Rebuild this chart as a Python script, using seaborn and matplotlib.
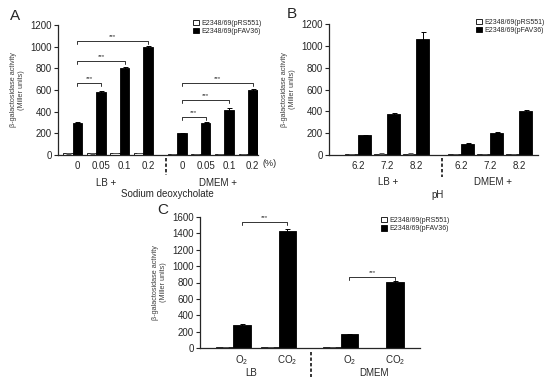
import matplotlib
matplotlib.use("Agg")
import matplotlib.pyplot as plt
import numpy as np
import pandas as pd
import seaborn as sns

# ---- data ----
strains = ["E2348/69(pRS551)", "E2348/69(pFAV36)"]

# panel A: sodium deoxycholate (%)
a_media = ["LB +", "DMEM +"]
a_conc = ["0", "0.05", "0.1", "0.2"]
a_rs551 = [15, 15, 18, 18, 5, 8, 8, 8]
a_rs551_err = [3, 3, 3, 3, 1, 2, 2, 2]
a_fav36 = [300, 580, 800, 1000, 200, 300, 420, 600]
a_fav36_err = [8, 15, 12, 8, 5, 6, 15, 6]
# (from index, to index, height) for significance brackets
a_sig = [(0, 1, 665), (0, 2, 868), (0, 3, 1052), (4, 5, 351), (4, 6, 508), (4, 7, 665)]

# panel B: pH
b_media = ["LB +", "DMEM +"]
b_ph = ["6.2", "7.2", "8.2"]
b_rs551 = [8, 12, 12, 5, 5, 5]
b_rs551_err = [1, 2, 2, 1, 1, 1]
b_fav36 = [180, 375, 1065, 105, 205, 400]
b_fav36_err = [5, 10, 65, 6, 5, 8]

# panel C: O2 / CO2
c_media = ["LB", "DMEM"]
c_gas = ["O$_2$", "CO$_2$"]
c_rs551 = [8, 12, 10, 5]
c_rs551_err = [1, 2, 2, 1]
c_fav36 = [285, 1430, 165, 805]
c_fav36_err = [12, 20, 8, 8]
c_sig = [(0, 1, 1539), (2, 3, 867)]

sns.set_style("ticks")
plt.rcParams["font.family"] = ["Liberation Sans", "DejaVu Sans"]
plt.rcParams["mathtext.default"] = "regular"
plt.rcParams["axes.linewidth"] = 0.9

palette = {strains[0]: "white", strains[1]: "black"}


def build_frame(media, levels, rs, fav, gap):
    rows = []
    n = len(levels)
    for mi, _ in enumerate(media):
        for li, _ in enumerate(levels):
            k = mi * n + li
            pos = li + mi * (n + gap - 1)
            rows.append({"pos": pos, "strain": strains[0], "value": rs[k]})
            rows.append({"pos": pos, "strain": strains[1], "value": fav[k]})
    return pd.DataFrame(rows)


def draw_panel(ax, df, width, errs, ylim, ystep, legend_xy):
    sns.barplot(data=df, x="pos", y="value", hue="strain", hue_order=strains,
                palette=palette, native_scale=True, width=width, errorbar=None,
                edgecolor="black", linewidth=0.6, legend=False, ax=ax)
    for cont, err, col in zip(ax.containers, errs, ["0.35", "black"]):
        xs = [p.get_x() + p.get_width() / 2 for p in cont]
        hs = [p.get_height() for p in cont]
        ax.errorbar(xs, hs, yerr=err, fmt="none", ecolor=col, elinewidth=0.7,
                    capsize=1.8, capthick=0.7)
    ax.set_ylim(*ylim)
    ax.set_yticks(np.arange(ylim[0], ylim[1] + 1, ystep))
    ax.tick_params(axis="y", labelsize=7, length=3, width=0.8, pad=1.5)
    ax.tick_params(axis="x", labelsize=7, length=0, pad=4)
    ax.set_xlabel("")
    ax.set_ylabel("β-galactosidase activity\n(Miller units)", fontsize=5.2,
                  linespacing=1.1, labelpad=4, color="0.25")
    sns.despine(ax=ax)
    ax.legend(handles=ax.containers, labels=strains, loc="upper left",
              bbox_to_anchor=legend_xy, frameon=False, fontsize=5.0,
              handlelength=0.9, handleheight=0.8, handletextpad=0.3,
              labelspacing=0.15, borderaxespad=0)


def black_x(ax):
    return [p.get_x() + p.get_width() / 2 for p in ax.containers[1]]


def brackets(ax, xs, sig, drop):
    for i, j, h in sig:
        ax.plot([xs[i], xs[i], xs[j], xs[j]], [h - drop, h, h, h - drop],
                color="0.2", lw=0.7, clip_on=False)
        ax.text((xs[i] + xs[j]) / 2, h + drop * 0.6, "***", ha="center",
                va="bottom", fontsize=4.5)


fig = plt.figure(figsize=(5.5, 3.77), dpi=100)
W, H = 550, 377

def px_axes(l, t, r, b):
    return fig.add_axes([l / W, 1 - b / H, (r - l) / W, (b - t) / H])

# ---- panel A ----
axA = px_axes(58, 25, 258, 155)
dfA = build_frame(a_media, a_conc, a_rs551, a_fav36, gap=1.43)
draw_panel(axA, dfA, 0.8, [a_rs551_err, a_fav36_err], (0, 1200), 200, (0.66, 1.06))
axA.set_xlim(-0.62, 7.85)
xa = black_x(axA)
axA.set_xticks(xa, a_conc * 2)
axA.text(xa[-1] + 0.7, -0.032, "(%)", transform=axA.get_xaxis_transform(),
         ha="center", va="top", fontsize=6.5)
brackets(axA, xa, a_sig, 30)
axA.plot([3.95, 3.95], [-0.02, -0.15], transform=axA.get_xaxis_transform(),
         color="black", lw=1.1, ls=(0, (2.2, 1.4)), clip_on=False)
axA.text(1.4, -0.175, a_media[0], transform=axA.get_xaxis_transform(),
         ha="center", va="top", fontsize=7)
axA.text(6.15, -0.175, a_media[1], transform=axA.get_xaxis_transform(),
         ha="center", va="top", fontsize=7)
axA.text(4.0, -0.265, "Sodium deoxycholate", transform=axA.get_xaxis_transform(),
         ha="center", va="top", fontsize=7)

# ---- panel B ----
axB = px_axes(329, 24, 538, 155)
dfB = build_frame(b_media, b_ph, b_rs551, b_fav36, gap=1.55)
draw_panel(axB, dfB, 0.9, [b_rs551_err, b_fav36_err], (0, 1200), 200, (0.69, 1.06))
axB.set_xlim(-1.0, 6.2)
xb = sorted(dfB["pos"].unique())
axB.set_xticks(xb, b_ph * 2)
axB.plot([2.88, 2.88], [-0.02, -0.17], transform=axB.get_xaxis_transform(),
         color="black", lw=1.1, ls=(0, (2.2, 1.4)), clip_on=False)
axB.text(1.05, -0.165, b_media[0], transform=axB.get_xaxis_transform(),
         ha="center", va="top", fontsize=7)
axB.text(4.65, -0.165, b_media[1], transform=axB.get_xaxis_transform(),
         ha="center", va="top", fontsize=7)
axB.text(2.75, -0.265, "pH", transform=axB.get_xaxis_transform(),
         ha="center", va="top", fontsize=7)

# ---- panel C ----
axC = px_axes(200, 217, 420, 348)
dfC = build_frame(c_media, c_gas, c_rs551, c_fav36, gap=1.36)
draw_panel(axC, dfC, 0.76, [c_rs551_err, c_fav36_err], (0, 1600), 200, (0.81, 1.02))
axC.set_xlim(-0.73, 4.1)
xc = black_x(axC)
axC.set_xticks(xc, c_gas * 2)
brackets(axC, xc, c_sig, 40)
axC.plot([1.71, 1.71], [-0.03, -0.23], transform=axC.get_xaxis_transform(),
         color="black", lw=1.1, ls=(0, (2.2, 1.4)), clip_on=False)
axC.text(0.4, -0.15, c_media[0], transform=axC.get_xaxis_transform(),
         ha="center", va="top", fontsize=7)
axC.text(3.1, -0.15, c_media[1], transform=axC.get_xaxis_transform(),
         ha="center", va="top", fontsize=7)

# panel letters
for x, y, s in [(10, 20, "A"), (287, 18, "B"), (157, 214, "C")]:
    fig.text(x / W, 1 - y / H, s, fontsize=11, ha="left", va="baseline")

fig.savefig("out.png", dpi=100)
